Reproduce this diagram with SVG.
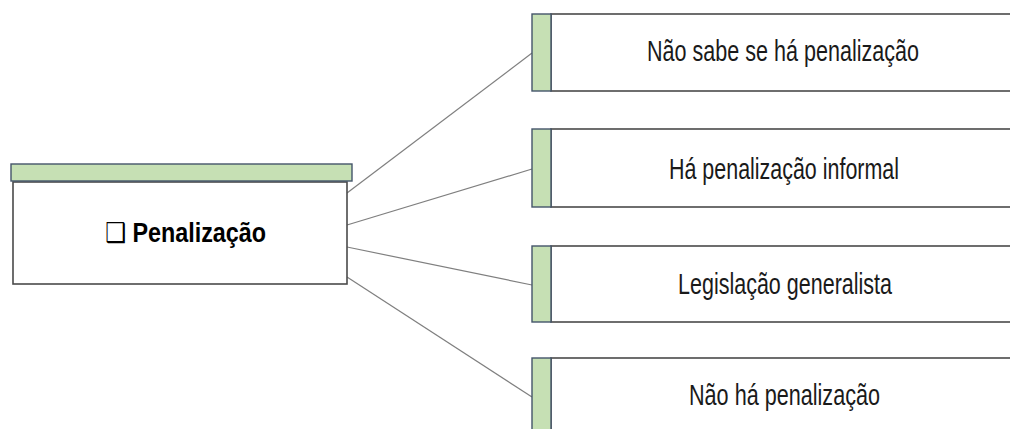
<svg xmlns="http://www.w3.org/2000/svg" width="1010" height="429" viewBox="0 0 1010 429">
<style>
.bg{fill:#ffffff}
.box{fill:#ffffff;stroke:#4a4a4a;stroke-width:1.6}
.strip{fill:#c6e0b4;stroke:#44546a;stroke-width:1.4}
.conn{stroke:#7f7f7f;stroke-width:1.2;fill:none}
.lbl{font-family:"Liberation Sans",Arial,sans-serif;font-size:29px;fill:#1a1a1a;text-anchor:middle}
.main{font-family:"Liberation Sans","DejaVu Sans",Arial,sans-serif;font-size:27px;font-weight:bold;fill:#000000;text-anchor:middle}
</style>
<rect class="bg" x="0" y="0" width="1010" height="429"/>
<g id="connectors">
<line class="conn" x1="347" y1="193" x2="532" y2="53"/>
<line class="conn" x1="347" y1="225" x2="532" y2="169"/>
<line class="conn" x1="347" y1="247" x2="532" y2="285"/>
<line class="conn" x1="347" y1="277" x2="532" y2="397"/>
</g>
<g id="node-penalizacao">
<rect class="box" x="13" y="182" width="334" height="102"/>
<rect class="strip" x="11" y="164" width="341" height="17"/>
<text class="main" x="185.5" y="242" textLength="161" lengthAdjust="spacingAndGlyphs">❑ Penalização</text>
</g>
<g id="node-nao-sabe">
<rect class="box" x="551" y="14" width="461" height="77"/>
<rect class="strip" x="532" y="14" width="19" height="77"/>
<text class="lbl" x="783" y="61" textLength="272" lengthAdjust="spacingAndGlyphs">Não sabe se há penalização</text>
</g>
<g id="node-informal">
<rect class="box" x="551" y="129" width="461" height="78"/>
<rect class="strip" x="532" y="129" width="19" height="78"/>
<text class="lbl" x="784" y="179" textLength="230" lengthAdjust="spacingAndGlyphs">Há penalização informal</text>
</g>
<g id="node-legislacao">
<rect class="box" x="551" y="246" width="461" height="76"/>
<rect class="strip" x="532" y="246" width="19" height="76"/>
<text class="lbl" x="785" y="294" textLength="214" lengthAdjust="spacingAndGlyphs">Legislação generalista</text>
</g>
<g id="node-nao-ha">
<rect class="box" x="551" y="358" width="461" height="82"/>
<rect class="strip" x="532" y="358" width="19" height="82"/>
<text class="lbl" x="784.5" y="405" textLength="191" lengthAdjust="spacingAndGlyphs">Não há penalização</text>
</g>
</svg>
